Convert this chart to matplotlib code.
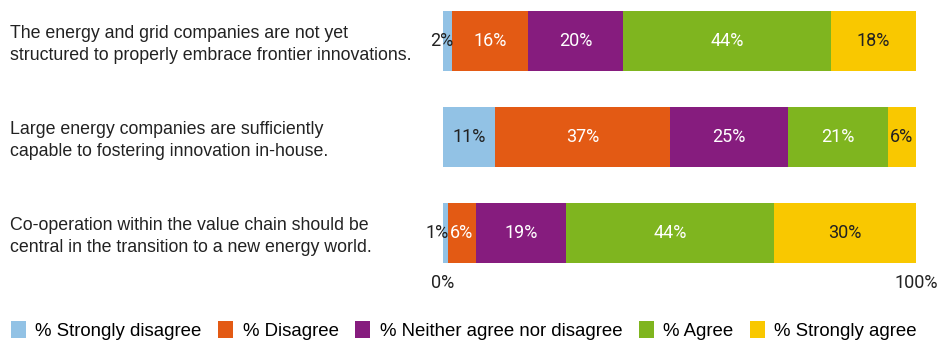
import matplotlib
matplotlib.use("Agg")
import matplotlib.pyplot as plt
from matplotlib.transforms import blended_transform_factory
from matplotlib.patches import Patch

statements = [
    "The energy and grid companies are not yet\nstructured to properly embrace frontier innovations.",
    "Large energy companies are sufficiently\ncapable to fostering innovation in-house.",
    "Co-operation within the value chain should be\ncentral in the transition to a new energy world.",
]
categories = ["% Strongly disagree", "% Disagree", "% Neither agree nor disagree",
              "% Agree", "% Strongly agree"]
strongly_disagree = [2, 11, 1]
disagree = [16, 37, 6]
neither = [20, 25, 19]
agree = [44, 21, 44]
strongly_agree = [18, 6, 30]

colors = ["#92C2E5", "#E35A14", "#861C7E", "#7FB51F", "#F9C800"]
text_colors = ["#222222", "white", "white", "white", "#222222"]

series = [strongly_disagree, disagree, neither, agree, strongly_agree]

label_font = ["Liberation Sans", "DejaVu Sans"]
pct_font = ["Roboto", "DejaVu Sans"]

fig = plt.figure(figsize=(9.53, 3.41), dpi=100)
ax = fig.add_axes([443 / 953, 1 - 271.4 / 341, 473 / 953, 268.8 / 341])

ypos = list(range(len(statements)))
left = [0] * len(statements)
for k, vals in enumerate(series):
    ax.barh(ypos, vals, left=left, height=0.625, color=colors[k], linewidth=0)
    for i, v in enumerate(vals):
        if v <= 3:
            # tiny segment: label sits just left of the bar end
            ax.text(left[i] + v + 0.2, i, f"{v}%", ha="right", va="center",
                    fontsize=13, color="#222222", family=pct_font)
        else:
            ax.text(left[i] + v / 2, i, f"{v}%", ha="center", va="center",
                    fontsize=13, color=text_colors[k], family=pct_font)
    left = [a + b for a, b in zip(left, vals)]

ax.set_xlim(0, 100)
ax.set_ylim(2.4, -0.4)
ax.set_yticks([])
ax.set_xticks([0, 100])
ax.set_xticklabels(["0%", "100%"], fontsize=13, color="#222222", family=pct_font)
ax.tick_params(axis="x", length=0, pad=2)
for s in ax.spines.values():
    s.set_visible(False)

trans = blended_transform_factory(fig.transFigure, ax.transData)
for i, s in enumerate(statements):
    ax.text(10 / 953, i + 0.035, s, transform=trans, ha="left", va="center",
            fontsize=12.8, color="#222222", linespacing=1.4, family=label_font)

handles = [Patch(facecolor=c, edgecolor="none") for c in colors]
fig.legend(handles, categories, loc="lower left", bbox_to_anchor=(0.0, -0.03),
           ncol=5, frameon=False, prop={"family": label_font, "size": 13.4},
           handlelength=0.8, handleheight=1.0,
           handletextpad=0.5, columnspacing=0.9, borderaxespad=0.2)

fig.savefig("out.png", dpi=100)
